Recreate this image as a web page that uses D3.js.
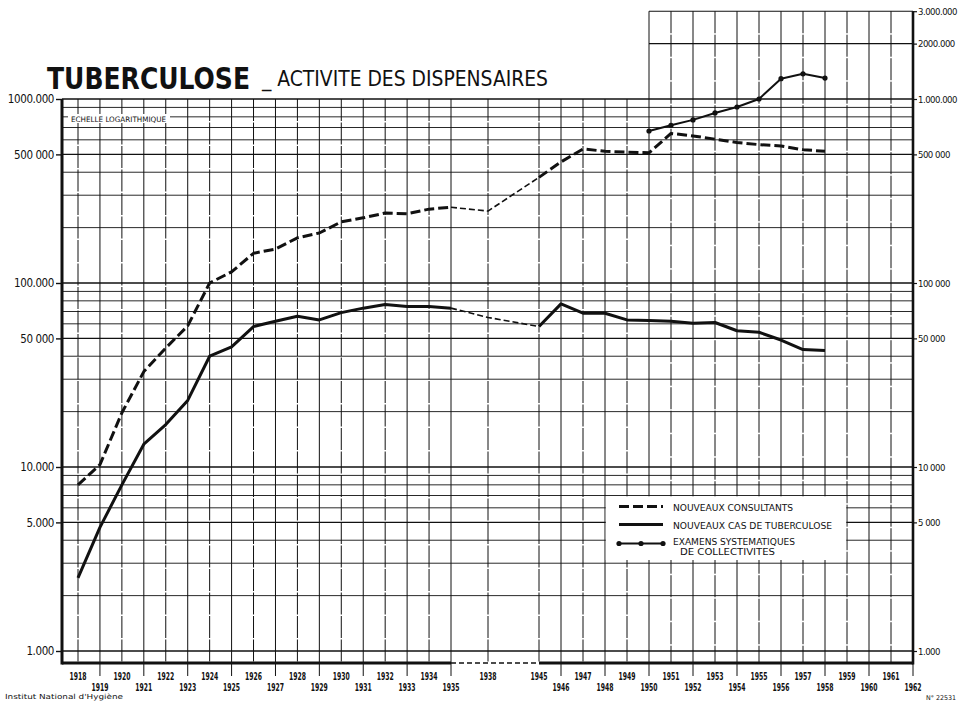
<!DOCTYPE html>
<html>
<head>
<meta charset="utf-8">
<script src="https://cdn.jsdelivr.net/npm/d3@7"></script>
<style>
  body { margin: 0; background: #fff; }
  svg { display: block; }
</style>
</head>
<body>
<div id="chart"></div>
<script>
// Tuberculose - activite des dispensaires (echelle logarithmique)

const years = [1918, 1919, 1920, 1921, 1922, 1923, 1924, 1925, 1926, 1927, 1928, 1929, 1930,
  1931, 1932, 1933, 1934, 1935, 1938, 1945, 1946, 1947, 1948, 1949, 1950, 1951, 1952, 1953,
  1954, 1955, 1956, 1957, 1958];

// nouveaux consultants (dashed line)
const consultants = [8000, 10300, 19700, 33000, 44300, 58500, 100000, 115000, 145000, 153000,
  176000, 187000, 215000, 226000, 240000, 238000, 252000, 258000, 246000, 375000, 455000,
  535000, 520000, 514000, 510000, 650000, 630000, 605000, 580000, 565000, 555000, 530000, 520000];

// nouveaux cas de tuberculose (solid line)
const nouveauxCas = [2500, 4700, 8000, 13300, 17000, 23000, 40000, 45000, 58000, 62000, 66000,
  63000, 69000, 73000, 76500, 74500, 74500, 73000, 65000, 58000, 77000, 68500, 68500, 63000,
  62500, 62000, 60500, 61000, 55000, 54000, 49000, 43500, 43000];

// examens systematiques de collectivites (line with dots)
const examensYears = [1950, 1951, 1952, 1953, 1954, 1955, 1956, 1957, 1958];
const examens = [670000, 720000, 770000, 840000, 905000, 1000000, 1290000, 1370000, 1300000];

const tickYears = [1918, 1919, 1920, 1921, 1922, 1923, 1924, 1925, 1926, 1927, 1928, 1929, 1930,
  1931, 1932, 1933, 1934, 1935, 1938, 1945, 1946, 1947, 1948, 1949, 1950, 1951, 1952, 1953,
  1954, 1955, 1956, 1957, 1958, 1959, 1960, 1961, 1962];
const lowerRowYears = [1919, 1921, 1923, 1925, 1927, 1929, 1931, 1933, 1935, 1946, 1948, 1950,
  1952, 1954, 1956, 1958, 1960, 1962];

const leftTicks = [1000000, 500000, 100000, 50000, 10000, 5000, 1000];
const leftLabels = ['1000.000', '500 000', '100.000', '50 000', '10.000', '5.000', '1.000'];
const rightTicks = [3000000, 2000000, 1000000, 500000, 100000, 50000, 10000, 5000, 1000];
const rightLabels = ['3.000.000', '2000.000', '1.000.000', '500 000', '100 000', '50 000',
  '10 000', '5 000', '1.000'];

const legendLabels = ['NOUVEAUX CONSULTANTS', 'NOUVEAUX CAS DE TUBERCULOSE',
  'EXAMENS SYSTEMATIQUES', 'DE COLLECTIVITES'];

(function() {
  const W = 959, H = 703;
  const ink = '#111';
  const narrow = '"DejaVu Sans Condensed", "DejaVu Sans", sans-serif';

  const svg = d3.select('#chart').append('svg')
    .attr('width', W)
    .attr('height', H);

  svg.append('rect').attr('width', W).attr('height', H).attr('fill', '#fff');

  // x is broken between 1935 and 1945, so piecewise linear
  const x = d3.scaleLinear()
    .domain([1918, 1935, 1938, 1945, 1962])
    .range([78, 451, 488, 539, 913]);

  const y = d3.scaleLog()
    .domain([1000, 1000000])
    .range([651, 99]);

  const left = 62;
  const right = x(1962);
  const bottom = 663;
  const top = y(1000000);
  const upperTop = y(3000000);
  const upperLeft = x(1950);

  const grid = svg.append('g').attr('class', 'grid');

  // horizontal log grid
  grid.selectAll('.hline')
    .data(y.ticks())
    .enter()
    .append('line')
    .attr('x1', left).attr('x2', right)
    .attr('y1', d => y(d)).attr('y2', d => y(d))
    .attr('stroke', ink)
    .attr('stroke-width', d => {
      const m = d / Math.pow(10, Math.floor(Math.log10(d) + 1e-9));
      if (Math.abs(m - 1) < 1e-6) return 1.6;
      if (Math.abs(m - 5) < 1e-6) return 1.2;
      return 0.9;
    });

  // upper extension 1950-1962
  grid.selectAll('.uline')
    .data([2000000, 3000000])
    .enter()
    .append('line')
    .attr('x1', upperLeft).attr('x2', right)
    .attr('y1', d => y(d)).attr('y2', d => y(d))
    .attr('stroke', ink)
    .attr('stroke-width', 1.1);

  // vertical year lines
  grid.selectAll('.vline')
    .data(tickYears)
    .enter()
    .append('line')
    .attr('x1', d => x(d)).attr('x2', d => x(d))
    .attr('y1', d => d >= 1950 ? upperTop : top)
    .attr('y2', d => lowerRowYears.includes(d) ? bottom + 13 : bottom)
    .attr('stroke', ink)
    .attr('stroke-width', 1)
    .attr('stroke-dasharray', d => lowerRowYears.includes(d) ? null : '22,1.5');

  // "echelle logarithmique" note
  svg.append('rect')
    .attr('x', 68).attr('y', 114).attr('width', 102).attr('height', 9)
    .attr('fill', '#fff');
  svg.append('text')
    .attr('x', 71).attr('y', 122)
    .attr('textLength', 95).attr('lengthAdjust', 'spacingAndGlyphs')
    .style('font-family', narrow)
    .style('font-size', '7.5px')
    .style('fill', ink)
    .text('ECHELLE LOGARITHMIQUE');

  // frame: left, right and bottom axes
  svg.append('line')
    .attr('x1', left).attr('x2', left).attr('y1', top).attr('y2', bottom + 1.5)
    .attr('stroke', ink).attr('stroke-width', 3);
  svg.append('line')
    .attr('x1', right).attr('x2', right).attr('y1', upperTop).attr('y2', bottom + 1.5)
    .attr('stroke', ink).attr('stroke-width', 2.6);
  svg.append('line')
    .attr('x1', left).attr('x2', x(1935)).attr('y1', bottom).attr('y2', bottom)
    .attr('stroke', ink).attr('stroke-width', 3);
  svg.append('line')
    .attr('x1', x(1935)).attr('x2', x(1945)).attr('y1', bottom).attr('y2', bottom)
    .attr('stroke', ink).attr('stroke-width', 1.6).attr('stroke-dasharray', '5,3');
  svg.append('line')
    .attr('x1', x(1945)).attr('x2', right).attr('y1', bottom).attr('y2', bottom)
    .attr('stroke', ink).attr('stroke-width', 3);

  // left axis
  const yLeft = d3.axisLeft(y)
    .tickValues(leftTicks)
    .tickFormat((d, i) => leftLabels[i])
    .tickSize(6)
    .tickPadding(2);
  const gl = svg.append('g')
    .attr('transform', `translate(${left}, 0)`)
    .call(yLeft);
  gl.select('.domain').remove();
  gl.selectAll('line').attr('stroke', ink).attr('stroke-width', 1.4);
  gl.selectAll('text')
    .style('font-family', narrow)
    .style('font-size', '11.5px')
    .style('letter-spacing', '-0.4px')
    .style('fill', ink);

  // right axis
  const yRight = d3.axisRight(y)
    .tickValues(rightTicks)
    .tickFormat((d, i) => rightLabels[i])
    .tickSize(4)
    .tickPadding(1);
  const gr = svg.append('g')
    .attr('transform', `translate(${right}, 0)`)
    .call(yRight);
  gr.select('.domain').remove();
  gr.selectAll('line').attr('stroke', ink).attr('stroke-width', 1.2);
  gr.selectAll('text')
    .style('font-family', narrow)
    .style('font-size', '9.5px')
    .style('letter-spacing', '-0.5px')
    .style('fill', ink);

  // year labels on two rows
  svg.selectAll('.year-label')
    .data(tickYears)
    .enter()
    .append('text')
    .attr('class', 'year-label')
    .attr('x', d => x(d))
    .attr('y', d => lowerRowYears.includes(d) ? bottom + 28 : bottom + 17)
    .attr('text-anchor', 'middle')
    .attr('textLength', 17)
    .attr('lengthAdjust', 'spacingAndGlyphs')
    .style('font-family', narrow)
    .style('font-size', '11px')
    .style('font-weight', 'bold')
    .style('fill', ink)
    .text(d => d);

  // data lines
  const line = d3.line()
    .x(d => x(d.yr))
    .y(d => y(d.v));

  function pieces(values) {
    const pts = years.map((yr, i) => ({ yr: yr, v: values[i] }));
    return {
      pre: pts.filter(d => d.yr <= 1935),
      gap: pts.filter(d => d.yr >= 1935 && d.yr <= 1945),
      post: pts.filter(d => d.yr >= 1945)
    };
  }

  const lines = svg.append('g').attr('fill', 'none').attr('stroke', ink)
    .attr('stroke-linejoin', 'round');

  const cons = pieces(consultants);
  lines.append('path').attr('d', line(cons.pre))
    .attr('stroke-width', 3).attr('stroke-dasharray', '10,4');
  lines.append('path').attr('d', line(cons.gap))
    .attr('stroke-width', 1.6).attr('stroke-dasharray', '6,3');
  lines.append('path').attr('d', line(cons.post))
    .attr('stroke-width', 3).attr('stroke-dasharray', '10,4');

  const cas = pieces(nouveauxCas);
  lines.append('path').attr('d', line(cas.pre)).attr('stroke-width', 3);
  lines.append('path').attr('d', line(cas.gap))
    .attr('stroke-width', 1.6).attr('stroke-dasharray', '6,3');
  lines.append('path').attr('d', line(cas.post)).attr('stroke-width', 3);

  const exPts = examensYears.map((yr, i) => ({ yr: yr, v: examens[i] }));
  lines.append('path').attr('d', line(exPts)).attr('stroke-width', 2);
  svg.selectAll('.ex-dot')
    .data(exPts)
    .enter()
    .append('circle')
    .attr('cx', d => x(d.yr))
    .attr('cy', d => y(d.v))
    .attr('r', 2.6)
    .attr('fill', ink);

  // legend, sits in the grid cell 1948-1959 / 3 000-7 000
  const lx0 = x(1948), lx1 = x(1959), ly0 = y(7000), ly1 = y(3000);
  svg.append('rect')
    .attr('x', lx0 + 0.8).attr('y', ly0 + 0.8)
    .attr('width', lx1 - lx0 - 1.6).attr('height', ly1 - ly0 - 4)
    .attr('fill', '#fff');

  const legend = svg.append('g').attr('transform', `translate(${lx0 + 14}, ${ly0})`);
  const rowY = [11, 29, 48];
  legend.append('line').attr('x1', 0).attr('x2', 44).attr('y1', rowY[0]).attr('y2', rowY[0])
    .attr('stroke', ink).attr('stroke-width', 3).attr('stroke-dasharray', '10,4');
  legend.append('line').attr('x1', 0).attr('x2', 44).attr('y1', rowY[1]).attr('y2', rowY[1])
    .attr('stroke', ink).attr('stroke-width', 3);
  legend.append('line').attr('x1', 0).attr('x2', 44).attr('y1', rowY[2]).attr('y2', rowY[2])
    .attr('stroke', ink).attr('stroke-width', 2);
  legend.selectAll('.lg-dot')
    .data([0, 22, 44])
    .enter()
    .append('circle')
    .attr('cx', d => d).attr('cy', rowY[2]).attr('r', 2.6).attr('fill', ink);

  const legendText = [
    { t: legendLabels[0], x: 54, y: rowY[0] + 4, w: 120 },
    { t: legendLabels[1], x: 54, y: rowY[1] + 4, w: 159 },
    { t: legendLabels[2], x: 54, y: rowY[2] + 1, w: 122 },
    { t: legendLabels[3], x: 61, y: rowY[2] + 11, w: 95 }
  ];
  legend.selectAll('.lg-text')
    .data(legendText)
    .enter()
    .append('text')
    .attr('x', d => d.x).attr('y', d => d.y)
    .attr('textLength', d => d.w).attr('lengthAdjust', 'spacingAndGlyphs')
    .style('font-family', narrow)
    .style('font-size', '9.5px')
    .style('fill', ink)
    .text(d => d.t);

  // title
  svg.append('text')
    .attr('x', 47).attr('y', 89)
    .attr('textLength', 203).attr('lengthAdjust', 'spacingAndGlyphs')
    .style('font-family', narrow)
    .style('font-weight', 'bold')
    .style('font-size', '30px')
    .style('fill', ink)
    .text('TUBERCULOSE');
  svg.append('text')
    .attr('x', 262).attr('y', 86)
    .attr('textLength', 286).attr('lengthAdjust', 'spacingAndGlyphs')
    .style('font-family', narrow)
    .style('font-size', '22px')
    .style('fill', ink)
    .text('_ ACTIVITE DES DISPENSAIRES');

  // footer notes
  svg.append('text')
    .attr('x', 5).attr('y', 699)
    .attr('textLength', 118).attr('lengthAdjust', 'spacingAndGlyphs')
    .style('font-family', narrow)
    .style('font-size', '7px')
    .style('fill', ink)
    .text("Institut National d'Hygiène");
  svg.append('text')
    .attr('x', 926).attr('y', 700)
    .attr('textLength', 30).attr('lengthAdjust', 'spacingAndGlyphs')
    .style('font-family', narrow)
    .style('font-size', '6.5px')
    .style('fill', ink)
    .text('N° 22531');
})();
</script>
</body>
</html>
